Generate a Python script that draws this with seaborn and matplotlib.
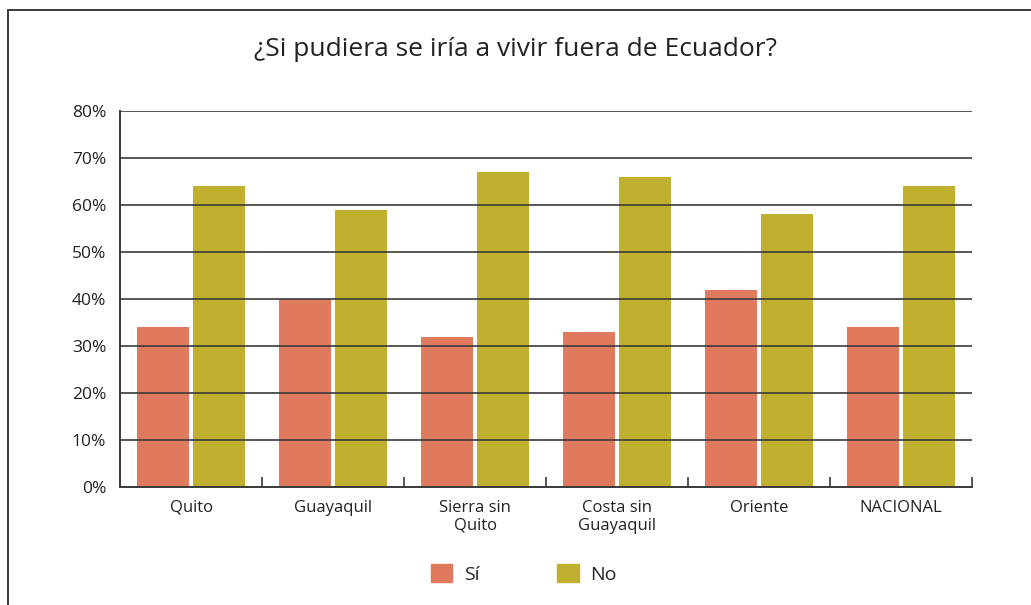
import matplotlib
matplotlib.use("Agg")
from matplotlib import pyplot as plt
from matplotlib.lines import Line2D
import pandas as pd
import seaborn as sns

regions = ['Quito', 'Guayaquil', 'Sierra sin\nQuito', 'Costa sin\nGuayaquil', 'Oriente', 'NACIONAL']
si = [34, 40, 32, 33, 42, 34]
no = [64, 59, 67, 66, 58, 64]
answers = ['Sí', 'No']
colors = ['#DF7A5F', '#C1AF2F']

df = pd.DataFrame({
    'region': regions * 2,
    'respuesta': ['Sí'] * len(regions) + ['No'] * len(regions),
    'valor': si + no,
})

sns.set_style('white')
plt.rcParams['font.family'] = ['Open Sans', 'DejaVu Sans']

fig = plt.figure(figsize=(10.31, 6.05), dpi=100)
ax = fig.add_axes([0.1164, 0.195, 0.8264, 0.6215])

sns.barplot(data=df, x='region', y='valor', hue='respuesta', hue_order=answers,
            palette=colors, width=0.8, gap=0.085, saturation=1, linewidth=0,
            ax=ax, legend=False)

ax.set_ylim(0, 80)
ax.set_xlim(-0.5, len(regions) - 0.5)
ax.set_yticks(range(0, 81, 10))
ax.set_yticklabels([f'{v}%' for v in range(0, 81, 10)])
ax.set_xlabel('')
ax.set_ylabel('')

# gridlines drawn over the bars
ax.set_axisbelow(False)
ax.yaxis.grid(True, color='#3a3a3a', linewidth=1.2)
ax.xaxis.grid(False)
for p in ax.patches:
    p.set_zorder(1)

for side in ['top', 'right']:
    ax.spines[side].set_visible(False)
for side in ['left', 'bottom']:
    ax.spines[side].set_color('#3a3a3a')
    ax.spines[side].set_linewidth(1.4)

# ticks between categories on the x axis
ax.set_xticks([i + 0.5 for i in range(len(regions))], minor=True)
ax.tick_params(axis='x', which='minor', bottom=True, direction='in', length=7, width=1.2,
               color='#3a3a3a')
ax.tick_params(axis='x', which='major', length=0, pad=9, labelsize=12, labelcolor='#222222')
ax.tick_params(axis='y', length=0, pad=10, labelsize=12.5, labelcolor='#222222')

fig.text(0.5, 1 - 50 / 605, '¿Si pudiera se iría a vivir fuera de Ecuador?', ha='center',
         va='center', fontsize=19, color='#222222')

handles = [plt.Rectangle((0, 0), 1, 1, color=c) for c in colors]
fig.legend(handles, answers, loc='center', bbox_to_anchor=(0.508, 0.052), ncol=2, frameon=False,
           fontsize=14, handlelength=1.1, handleheight=1.1, handletextpad=0.6, columnspacing=4.0)

# outer frame (left and top edges visible)
fig.add_artist(Line2D([8 / 1031, 8 / 1031], [0, 1 - 10 / 605], transform=fig.transFigure,
                      color='#3a3a3a', linewidth=1.4))
fig.add_artist(Line2D([8 / 1031, 1], [1 - 10 / 605, 1 - 10 / 605], transform=fig.transFigure,
                      color='#3a3a3a', linewidth=1.4))

fig.savefig('out.png', dpi=100)
